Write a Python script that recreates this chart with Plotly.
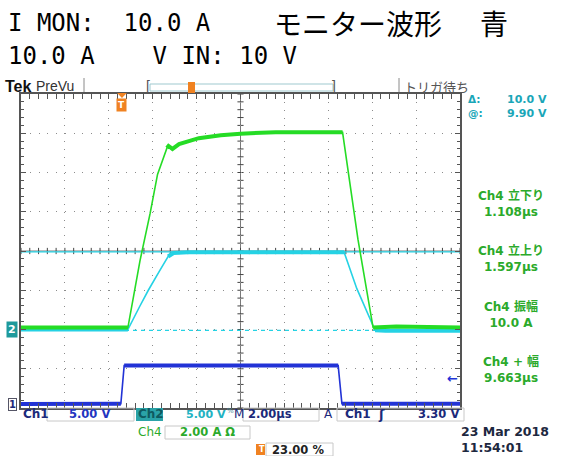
import plotly.graph_objects as go

# ---------------- data ----------------
T_RANGE = [-4.6, 15.4]            # µs : 10 div x 2 µs/div, trigger at 23 %
CH1_SCALE, CH2_SCALE, CH4_SCALE = 5.0, 5.0, 2.0     # V/div, V/div, A/div
CH1_POS, CH2_POS, CH4_POS = -3.90, -2.0, -2.0       # ground position (div)

# Ch1 (blue, V)
ch1_t = [-4.6, -2.0, -0.05, 0.10, 3.0, 6.0, 9.85, 10.02, 12.5, 15.4]
ch1_v = [0.0, 0.05, 0.05, 4.90, 4.95, 4.90, 4.90, 0.05, 0.0, 0.05]

# Ch2 (cyan, V)
ch2_t = [-4.6, 0.27, 0.80, 1.20, 1.70, 2.10, 2.35, 3.0, 6.0, 10.12, 10.70, 11.53, 12.0, 15.4]
ch2_v = [0.0, 0.0, 2.9, 5.0, 7.4, 9.3, 9.75, 9.85, 9.90, 9.85, 5.2, -0.10, -0.15, -0.15]

# Ch4 (green, A)
ch4_t = [-4.6, 0.27, 0.82, 1.28, 1.62, 2.05, 2.12, 2.30, 2.60, 3.5, 4.5, 5.4, 7.0,
         10.05, 10.75, 11.44, 12.5, 15.4]
ch4_a = [0.10, 0.10, 3.5, 5.9, 7.9, 9.25, 9.35, 9.2, 9.45, 9.75, 9.9, 9.98, 10.05,
         10.05, 4.6, 0.10, 0.15, 0.10]

cursor_levels = [9.90, -0.10]      # Ch2 cursors (V)
trigger_level = 3.30               # Ch1 trigger (V)

title_line1 = "I MON:  10.0 A"
title_jp = "モニター波形"
title_color = "青"
title_line2 = "10.0 A    V IN: 10 V"

cursor_labels = ["Δ:", "@:"]
cursor_values = ["10.0 V", "9.90 V"]
meas_text = [("Ch4 立下り", "1.108µs"), ("Ch4 立上り", "1.597µs"),
             ("Ch4 振幅", "10.0 A"), ("Ch4 + 幅", "9.663µs")]
date_text = ["23 Mar 2018", "11:54:01"]

# ---------------- helpers ----------------
L, R, T, B = 21, 460, 94, 408          # plot area in pixels
W, H = 566, 456


def px(x):
    return (x - L) / (R - L)


def py(y):
    return (B - y) / (B - T)


def rng(pos, scale):
    return [(-4 - pos) * scale, (4 - pos) * scale]


def flat_parts(t, v, scale, tol=1.5):
    xs, ys = [], []
    for i in range(len(t) - 1):
        slope = abs((v[i + 1] - v[i]) / scale) / max(abs(t[i + 1] - t[i]) / 2.0, 1e-9)
        if slope < tol:
            if not xs or xs[-1] is None or xs[-1] != t[i]:
                xs.append(t[i]); ys.append(v[i])
            xs.append(t[i + 1]); ys.append(v[i + 1])
        else:
            xs.append(None); ys.append(None)
    return xs, ys


GREEN = "#25DC25"
CYAN = "#25D2E4"
BLUE = "#2233D6"
GREEN_TXT = "#2BAA2B"
CYAN_TXT = "#1AA6B8"
NAVY = "#1C2A7A"
ORANGE = "#F08221"
UI_FONT = "DejaVu Sans"

fig = go.Figure()

# cursors (Ch2)
fig.add_trace(go.Scatter(x=T_RANGE, y=[cursor_levels[0]] * 2, yaxis="y3", mode="lines",
                         line=dict(color=CYAN, width=1.2), hoverinfo="skip"))
fig.add_trace(go.Scatter(x=T_RANGE, y=[cursor_levels[1]] * 2, yaxis="y3", mode="lines",
                         line=dict(color=CYAN, width=1.2, dash="4px,4px"), hoverinfo="skip"))

# waveforms: thin full path + thick noisy flat bands
for t, v, sc, ax, col in [(ch1_t, ch1_v, CH1_SCALE, "y2", BLUE),
                          (ch2_t, ch2_v, CH2_SCALE, "y3", CYAN),
                          (ch4_t, ch4_a, CH4_SCALE, "y4", GREEN)]:
    fig.add_trace(go.Scatter(x=t, y=v, yaxis=ax, mode="lines",
                             line=dict(color=col, width=1.6), hoverinfo="skip"))
    fx, fy = flat_parts(t, v, sc)
    fig.add_trace(go.Scatter(x=fx, y=fy, yaxis=ax, mode="lines", connectgaps=False,
                             line=dict(color=col, width=4), hoverinfo="skip"))

shapes = []
center_t = (T_RANGE[0] + T_RANGE[1]) / 2
# centre cross with minor ticks
shapes.append(dict(type="line", xref="x", yref="y", x0=center_t, x1=center_t, y0=-4, y1=4,
                   line=dict(color="#7a7a7a", width=1), layer="below"))
shapes.append(dict(type="line", xref="x", yref="y", x0=T_RANGE[0], x1=T_RANGE[1], y0=0, y1=0,
                   line=dict(color="#7a7a7a", width=1), layer="below"))
n = 0
while n <= 50:
    tx = T_RANGE[0] + n * 0.4
    shapes.append(dict(type="line", xref="x", yref="y", x0=tx, x1=tx, y0=-0.08, y1=0.08,
                       line=dict(color="#444", width=1), layer="below"))
    n += 1
n = 0
while n <= 40:
    ty = -4 + n * 0.2
    shapes.append(dict(type="line", xref="x", yref="y", x0=center_t - 0.14, x1=center_t + 0.14,
                       y0=ty, y1=ty, line=dict(color="#444", width=1), layer="below"))
    n += 1

# trigger-position triangle on the top border (at t = 0)
shapes.append(dict(type="path", xref="x", yref="paper",
                   path="M -0.22,%f L 0.22,%f L 0,%f Z" % (py(93), py(93), py(98)),
                   fillcolor=ORANGE, line=dict(width=0)))

# top bar decorations
for sx in (84, 399):
    shapes.append(dict(type="line", xref="paper", yref="paper", x0=px(sx), x1=px(sx),
                       y0=py(78), y1=py(92), line=dict(color="#8a8a8a", width=1)))
shapes.append(dict(type="rect", xref="paper", yref="paper", x0=px(150), x1=px(333),
                   y0=py(91), y1=py(84), line=dict(color="#9fc9cf", width=1)))
shapes.append(dict(type="rect", xref="paper", yref="paper", x0=px(188), x1=px(195),
                   y0=py(93), y1=py(82), fillcolor=ORANGE, line=dict(width=0)))

# bottom status boxes
for x0, x1, y0, y1 in [(47, 134, 408, 421), (243, 319, 408, 421), (337, 464, 408, 421),
                       (165, 250, 426, 439), (266, 333, 443, 456)]:
    shapes.append(dict(type="rect", xref="paper", yref="paper", x0=px(x0), x1=px(x1),
                       y0=py(y0), y1=py(y1), line=dict(color="#c8c8c8", width=1)))
shapes.append(dict(type="rect", xref="paper", yref="paper", x0=px(136), x1=px(163),
                   y0=py(408), y1=py(421), fillcolor="#2AA3A8", line=dict(width=0)))
shapes.append(dict(type="rect", xref="paper", yref="paper", x0=px(256), x1=px(265),
                   y0=py(444), y1=py(455), fillcolor=ORANGE, line=dict(width=0)))

ann = []


def txt(x, y, s, size=11, color="#000", family=UI_FONT, anchor="left", bold=False, **kw):
    ann.append(dict(xref="paper", yref="paper", x=px(x), y=py(y), text=("<b>%s</b>" % s) if bold else s,
                    showarrow=False, xanchor=anchor, yanchor="middle",
                    font=dict(size=size, color=color, family=family), **kw))


# title
txt(6, 23, title_line1, size=24, family="DejaVu Sans Mono")
txt(272, 23, title_jp, size=28, family="Noto Sans CJK JP")
txt(478, 23, title_color, size=28, family="Noto Sans CJK JP")
txt(6, 56, title_line2, size=24, family="DejaVu Sans Mono")

# top bar
txt(3, 86, "Tek", size=16, color="#111", family="Liberation Sans", bold=True)
txt(34, 86, "PreVu", size=14, color="#333", family="Liberation Sans")
txt(144, 86, "[", size=14, color="#555", family="Liberation Sans")
txt(338, 86, "]", size=14, color="#555", family="Liberation Sans", anchor="right")
txt(402, 86, "トリガ待ち", size=13, color="#555", family="Noto Sans CJK JP")

# right panel (two-line blocks)
txt(466, 106, "<br>".join(cursor_labels), size=10.5, color=CYAN_TXT, bold=True, align="left")
txt(549, 106, "<br>".join(cursor_values), size=11, color=CYAN_TXT, bold=True,
    anchor="right", align="right")
for i, (a, b) in enumerate(meas_text):
    y0 = 203 + i * 55.5
    txt(511, y0, a + "<br>" + b, size=12, color=GREEN_TXT, bold=True, anchor="center",
        family="DejaVu Sans, Noto Sans CJK JP")

# bottom status
txt(21, 414, "Ch1", size=12, color=NAVY, bold=True)
txt(67, 414, "5.00 V", size=11.5, color="#2336C0", bold=True)
txt(136, 414, "Ch2", size=12, color="#0E5A60", bold=True)
txt(184, 414, "5.00 V", size=11, color="#22B2C2", bold=True)
txt(225, 411, "%", size=7, color="#4a8a9a")
txt(232, 414, "M", size=12, color=NAVY)
txt(246, 414, "2.00µs", size=11.5, color=NAVY, bold=True)
txt(322, 414, "A", size=12, color=NAVY)
txt(343, 414, "Ch1", size=12, color=NAVY, bold=True)
txt(376, 414, "ʃ", size=13, color=NAVY, bold=True)
txt(461, 414, "3.30 V", size=11.5, color=NAVY, bold=True, anchor="right")
txt(136, 432, "Ch4", size=12, color=GREEN_TXT)
txt(178, 432, "2.00 A Ω", size=11.5, color=GREEN_TXT, bold=True)
txt(257, 449.5, "T", size=8, color="white", bold=True)
txt(270, 449.5, "23.00 %", size=11.5, color="#222", bold=True)
txt(459, 439, "<br>".join(date_text), size=12.5, color="#1D2840", bold=True, align="left")

# channel ground markers and trigger marks (tied to the data axes)
ann.append(dict(xref="paper", x=px(12), yref="y3", y=0, text="<b>2</b>", showarrow=False,
                xanchor="center", yanchor="middle", bgcolor="#1E9A9C", borderpad=1,
                font=dict(size=11, color="white", family=UI_FONT)))
ann.append(dict(xref="paper", x=px(12), yref="y2", y=0, text="<b>1</b>", showarrow=False,
                xanchor="center", yanchor="middle", bgcolor="white", bordercolor="#556",
                borderwidth=1, borderpad=0, font=dict(size=10, color=NAVY, family=UI_FONT)))
ann.append(dict(xref="paper", x=px(452), yref="y2", y=trigger_level, text="<b>←</b>",
                showarrow=False, xanchor="center", yanchor="middle",
                font=dict(size=13, color=BLUE, family=UI_FONT)))
ann.append(dict(xref="x", x=0, yref="paper", y=py(105), text="<b>T</b>", showarrow=False,
                xanchor="center", yanchor="middle", bgcolor=ORANGE, borderpad=1,
                font=dict(size=9, color="white", family=UI_FONT)))

grid_common = dict(showticklabels=False, ticks="inside", tickcolor="#555", tickwidth=1,
                   ticklen=5, showline=True, linecolor="#555", linewidth=2,
                   mirror="allticks", zeroline=False, showgrid=True,
                   gridcolor="#8c8c8c", gridwidth=1, fixedrange=True)

fig.update_layout(
    width=W, height=H, margin=dict(l=L, r=W - R, t=T, b=H - B),
    paper_bgcolor="white", plot_bgcolor="white", showlegend=False,
    xaxis=dict(range=T_RANGE, tickmode="linear", tick0=T_RANGE[0], dtick=2,
               griddash="1px,6.85px",
               minor=dict(ticks="inside", ticklen=3, tick0=T_RANGE[0], dtick=0.4,
                          tickcolor="#555", showgrid=False), **grid_common),
    yaxis=dict(range=[-4, 4], tickmode="linear", tick0=0, dtick=1,
               griddash="1px,7.78px",
               minor=dict(ticks="inside", ticklen=3, tick0=0, dtick=0.2,
                          tickcolor="#555", showgrid=False), **grid_common),
    yaxis2=dict(range=rng(CH1_POS, CH1_SCALE), overlaying="y", visible=False, fixedrange=True),
    yaxis3=dict(range=rng(CH2_POS, CH2_SCALE), overlaying="y", visible=False, fixedrange=True),
    yaxis4=dict(range=rng(CH4_POS, CH4_SCALE), overlaying="y", visible=False, fixedrange=True),
    shapes=shapes, annotations=ann,
)

fig.write_html("out.html", config={"displayModeBar": False},
               post_script="document.body.style.margin='0';document.body.style.overflow='hidden';")
